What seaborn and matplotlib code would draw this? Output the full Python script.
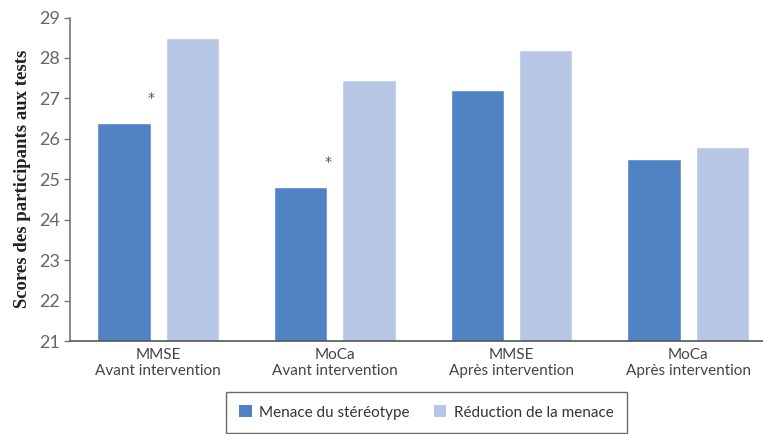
import pandas as pd
import matplotlib.pyplot as plt
import seaborn as sns
from matplotlib.patches import Patch

conditions = ['MMSE\nAvant intervention', 'MoCa\nAvant intervention',
              'MMSE\nAprès intervention', 'MoCa\nAprès intervention']
menace = [26.4, 24.8, 27.2, 25.5]
reduction = [28.5, 27.45, 28.2, 25.8]
significatif = [True, True, False, False]
groupes = ['Menace du stéréotype', 'Réduction de la menace']
couleurs = ['#5183C4', '#B8C6E5']

df = pd.DataFrame({
    'condition': conditions * 2,
    'score': menace + reduction,
    'groupe': [groupes[0]] * 4 + [groupes[1]] * 4,
})

sns.set_style('white')
plt.rcParams['font.family'] = ['Lato', 'DejaVu Sans']

fig = plt.figure(figsize=(7.63, 4.34), dpi=100)
ax = fig.add_axes([70 / 763, 93 / 434, 1 - 70 / 763, (341 - 17.5) / 434])

sns.barplot(data=df, x='condition', y='score', hue='groupe', palette=couleurs,
            width=0.776, gap=0.22, ax=ax, legend=False, saturation=1)

# asterisques de significativite
for i, s in enumerate(significatif):
    if s:
        ax.text(i - 0.04, menace[i] + 0.62, '*', ha='center', va='center',
                fontsize=10, color='#555555', family='DejaVu Sans')

ax.set_ylim(21, 29)
ax.set_xlim(-0.5, 3.424)
ax.set_yticks(range(21, 30))
ax.set_xlabel('')
ax.set_ylabel('Scores des participants aux tests', family='Liberation Serif',
              fontweight='bold', fontsize=13.5, color='#222222', labelpad=6)

for side in ['top', 'right']:
    ax.spines[side].set_visible(False)
ax.spines['left'].set_color('#777777')
ax.spines['bottom'].set_color('#555555')
ax.spines['left'].set_linewidth(1.2)
ax.spines['bottom'].set_linewidth(1.2)

ax.tick_params(axis='y', direction='out', length=4, width=1, color='#777777',
               labelsize=13, labelcolor='#666666', left=True, pad=3)
ax.tick_params(axis='x', length=0, labelsize=11, labelcolor='#444444', pad=5)

handles = [Patch(facecolor=c, edgecolor='none') for c in couleurs]
leg = fig.legend(handles, groupes, loc='center', ncol=2,
                 bbox_to_anchor=(426.5 / 763, 1 - 412.5 / 434),
                 frameon=True, fancybox=False, fontsize=11, handlelength=0.8,
                 handleheight=0.8, handletextpad=0.5, columnspacing=1.6,
                 borderpad=0.85, labelcolor='#333333')
leg.get_frame().set_edgecolor('#444444')
leg.get_frame().set_linewidth(1)

plt.savefig('out.png', dpi=100)
plt.close()
